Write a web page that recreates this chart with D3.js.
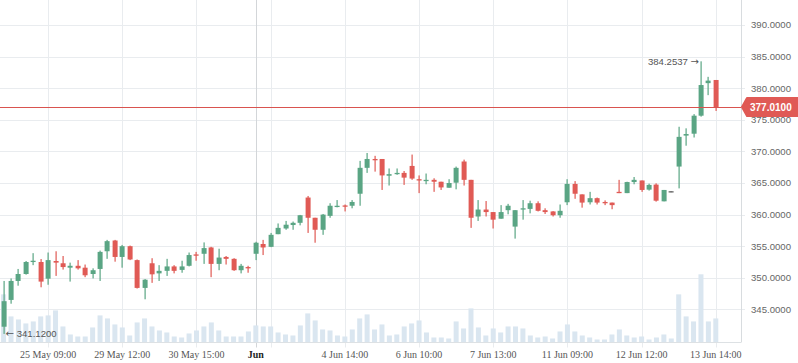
<!DOCTYPE html>
<html>
<head>
<meta charset="utf-8">
<script src="https://cdn.jsdelivr.net/npm/d3@7"></script>
<style>
  body { margin: 0; background: #fff; }
  svg { display: block; }
</style>
</head>
<body>
<svg id="chart" width="798" height="363"></svg>
<script>
// candle data (one entry per bar)
const openP = [342.26,346.5,349.5,350.6,352.5,352.5,349.86,352.66,352.3,351.6,351.9,351.6,350.6,351.4,354.2,355.9,353.3,355.0,352.8,348.4,
  352.3,350.7,351.1,351.8,351.25,351.9,353.7,353.8,354.8,352.2,353.3,353.0,351.2,351.7,353.8,355.35,354.9,356.9,357.8,358.35,
  358.7,362.7,359.5,357.6,359.8,361.2,361.45,361.4,363.3,367.4,368.8,368.8,366.15,366.4,366.6,367.7,365.6,365.4,365.5,365.2,
  364.25,365.05,368.4,365.5,359.7,360.8,360.4,359.35,360.7,358.1,360.8,360.9,361.8,360.7,360.5,359.9,361.95,364.85,363.2,361.95,
  362.6,362.0,361.9,363.6,363.4,365.15,365.4,363.95,364.75,362.1,363.7,367.6,372.5,372.8,375.65,380.8,381.3];
const highP = [349.5,349.9,351.4,352.66,353.9,352.97,354.0,354.2,353.45,352.4,352.8,352.1,351.5,354.3,356.0,356.0,355.2,355.1,352.9,349.8,
  353.1,352.0,353.0,352.0,352.7,354.0,354.1,355.6,354.9,354.6,353.45,353.1,352.2,351.9,355.7,356.0,357.1,358.6,359.0,358.9,
  359.95,362.95,359.5,360.1,361.8,362.3,361.6,362.3,368.5,369.75,369.3,368.8,367.3,367.3,366.9,369.5,366.2,366.5,365.75,365.2,
  365.6,367.6,368.7,365.5,362.3,362.15,360.4,361.5,361.7,360.7,362.3,362.2,362.1,361.0,360.55,361.6,365.6,365.3,363.2,363.6,
  362.7,362.25,361.9,365.5,365.2,365.95,365.4,364.9,364.95,363.9,363.7,373.9,373.65,375.9,384.2537,381.8,381.3];
const lowP = [341.12,345.9,348.75,350.5,352.0,348.5,348.9,350.3,351.3,349.4,351.3,350.1,349.9,349.5,353.0,352.55,351.6,352.8,348.3,346.6,
  349.2,349.5,350.3,350.7,350.8,351.8,352.7,352.2,350.1,351.2,352.1,351.1,350.7,350.8,352.8,353.6,354.85,356.9,357.6,357.6,
  358.3,357.1,355.55,356.8,359.5,361.15,360.5,361.0,361.4,366.6,366.8,363.9,364.6,366.3,364.7,365.5,363.4,364.8,363.6,363.9,
  364.25,364.0,364.6,357.9,359.0,359.7,357.8,359.35,360.05,356.2,359.2,360.2,360.5,360.1,359.7,359.5,361.5,362.5,361.1,361.6,
  361.6,361.5,360.85,363.4,363.4,364.8,363.6,363.8,362.05,362.1,363.7,364.15,370.9,372.2,375.5,378.9,376.4];
const closeP = [346.3,349.5,350.6,352.5,352.7,349.4,352.8,352.4,351.7,351.9,351.5,350.4,351.2,354.1,355.8,353.3,355.0,352.9,348.4,349.7,
  350.55,351.1,351.8,351.1,351.8,353.6,353.6,354.7,352.2,353.2,353.0,351.2,351.9,351.6,355.55,354.8,356.8,357.9,358.4,358.7,
  359.9,359.5,357.6,360.0,361.4,361.4,361.3,362.0,367.4,368.8,368.7,366.2,366.4,366.6,365.85,365.7,365.5,365.5,365.2,364.3,
  365.0,367.4,365.5,359.5,360.8,360.4,359.2,360.4,361.4,360.7,361.0,361.8,360.6,360.4,359.9,360.6,364.85,363.3,361.9,362.6,
  361.9,361.9,361.5,363.4,365.15,365.5,363.9,364.7,362.2,363.9,363.7,372.3,372.75,375.65,380.5,381.2,377.01];
const volume = [48,26,23,19,21,26,27,32,16,8,6,6,15,27,24,18,15,7,20,24,
  16,12,10,6,5,9,12,16,20,12,6,6,6,11,17,16,16,10,8,7,
  17,29,22,13,12,7,6,13,24,28,13,18,7,8,16,19,22,10,5,5,
  4,21,14,34,15,7,14,10,16,16,14,7,5,6,4,11,18,11,7,5,
  3,3,8,13,7,5,6,3,5,8,4,48,26,21,68,21,24];

// axis labels
const priceTicks = [345, 350, 355, 360, 365, 370, 375, 380, 385, 390];
const timeTickIdx = [6, 16, 26, 34, 36, 46, 56, 66, 76, 86, 96];
const timeTickLabels = ["25 May 09:00", "29 May 12:00", "30 May 15:00", "Jun", "", "4 Jun 14:00",
  "6 Jun 10:00", "7 Jun 13:00", "11 Jun 09:00", "12 Jun 12:00", "13 Jun 14:00"];
const lastPrice = 377.01;

const candles = openP.map((o, i) => ({
  i: i, o: o, h: highP[i], l: lowP[i], c: closeP[i], v: volume[i]
}));

const W = 798, H = 363;
const plotRight = 741, plotBottom = 342.5;

const svg = d3.select("#chart");

const x = d3.scaleLinear().domain([0, candles.length - 1]).range([3.6, 715.8]);
const y = d3.scaleLinear().domain([345, 390]).range([309.4, 25]);
const yVol = d3.scaleLinear().domain([0, 68]).range([plotBottom, 274.3]);

const green = "#5aa584", red = "#e05a55";
const sans = "'Liberation Sans', Arial, sans-serif";

// grid
const grid = svg.append("g");
grid.selectAll("line.h")
  .data(priceTicks)
  .enter()
  .append("line")
  .attr("x1", 0).attr("x2", plotRight + 4)
  .attr("y1", d => Math.round(y(d)) + 0.5)
  .attr("y2", d => Math.round(y(d)) + 0.5)
  .style("stroke", "#e9ecef");

grid.selectAll("line.v")
  .data(timeTickIdx)
  .enter()
  .append("line")
  .attr("x1", d => Math.round(x(d)) + 0.5)
  .attr("x2", d => Math.round(x(d)) + 0.5)
  .attr("y1", 0).attr("y2", plotBottom + 5)
  .style("stroke", (d, k) => timeTickLabels[k] === "Jun" ? "#d3d6d9" : "#e9ecef");

// volume bars
svg.append("g")
  .selectAll("rect")
  .data(candles)
  .enter()
  .append("rect")
  .attr("x", d => x(d.i) - 2.5)
  .attr("width", 5)
  .attr("y", d => yVol(d.v))
  .attr("height", d => plotBottom - yVol(d.v))
  .style("fill", "#dae6f0");

// axes frame
svg.append("line")
  .attr("x1", 0).attr("x2", plotRight)
  .attr("y1", plotBottom).attr("y2", plotBottom)
  .style("stroke", "#dde1e4");
svg.append("line")
  .attr("x1", plotRight + 0.5).attr("x2", plotRight + 0.5)
  .attr("y1", 0).attr("y2", plotBottom)
  .style("stroke", "#d8dcdf");

// candles
const colorOf = d => d.c > d.o ? green : (d.c < d.o ? red : "#666");
const cg = svg.append("g")
  .selectAll("g")
  .data(candles)
  .enter()
  .append("g");

cg.append("rect")
  .attr("x", d => Math.round(x(d.i)) - 0.5)
  .attr("width", 1.2)
  .attr("y", d => y(d.h))
  .attr("height", d => Math.max(1, y(d.l) - y(d.h)))
  .style("fill", colorOf);

cg.append("rect")
  .attr("x", d => Math.round(x(d.i)) - 2.4)
  .attr("width", 5)
  .attr("y", d => y(Math.max(d.o, d.c)))
  .attr("height", d => Math.max(1.3, Math.abs(y(d.o) - y(d.c))))
  .style("fill", colorOf);

// last price line + label
svg.append("line")
  .attr("x1", 0).attr("x2", plotRight)
  .attr("y1", Math.round(y(lastPrice)) + 0.5)
  .attr("y2", Math.round(y(lastPrice)) + 0.5)
  .style("stroke", "#d9534f");

const ly = y(lastPrice);
svg.append("path")
  .attr("d", `M${plotRight + 1},${ly} L${plotRight + 6},${ly - 9} L${W},${ly - 9} L${W},${ly + 9} L${plotRight + 6},${ly + 9} Z`)
  .style("fill", red)
  .style("stroke", red)
  .style("stroke-linejoin", "round")
  .style("stroke-width", 2);
svg.append("text")
  .attr("x", 750).attr("y", ly)
  .attr("dy", "0.35em")
  .style("font-family", sans)
  .style("font-size", "10px")
  .style("font-weight", "bold")
  .style("fill", "#fff")
  .text(lastPrice.toFixed(4));

// price axis labels
svg.append("g")
  .selectAll("text")
  .data(priceTicks)
  .enter()
  .append("text")
  .attr("x", 751)
  .attr("y", d => y(d))
  .attr("dy", "0.35em")
  .style("font-family", sans)
  .style("font-size", "9.6px")
  .style("fill", "#666")
  .text(d => d.toFixed(4));

// time axis labels
svg.append("g")
  .selectAll("text")
  .data(timeTickIdx)
  .enter()
  .append("text")
  .attr("x", d => x(d))
  .attr("y", 358)
  .style("text-anchor", "middle")
  .style("font-family", "'Liberation Serif', 'Times New Roman', serif")
  .style("font-size", "10px")
  .style("font-weight", (d, k) => timeTickLabels[k] === "Jun" ? "bold" : "normal")
  .style("fill", (d, k) => timeTickLabels[k] === "Jun" ? "#222" : "#555")
  .text((d, k) => timeTickLabels[k]);

// min / max markers
const iMin = d3.minIndex(candles, d => d.l);
const iMax = d3.maxIndex(candles, d => d.h);

const minLabel = svg.append("text")
  .attr("x", x(iMin) + 2)
  .attr("y", y(candles[iMin].l))
  .attr("dy", "0.35em")
  .style("font-family", sans)
  .style("font-size", "9.6px")
  .style("fill", "#555");
minLabel.append("tspan")
  .style("font-family", "'DejaVu Sans', sans-serif")
  .style("font-size", "10px")
  .text("\u2190");
minLabel.append("tspan")
  .text(" " + candles[iMin].l.toFixed(4));

const maxLabel = svg.append("text")
  .attr("x", x(iMax) - 2)
  .attr("y", y(candles[iMax].h))
  .attr("dy", "0.35em")
  .style("text-anchor", "end")
  .style("font-family", sans)
  .style("font-size", "9.6px")
  .style("fill", "#555");
maxLabel.append("tspan")
  .text(candles[iMax].h.toFixed(4) + " ");
maxLabel.append("tspan")
  .style("font-family", "'DejaVu Sans', sans-serif")
  .style("font-size", "10px")
  .text("\u2192");
</script>
</body>
</html>
